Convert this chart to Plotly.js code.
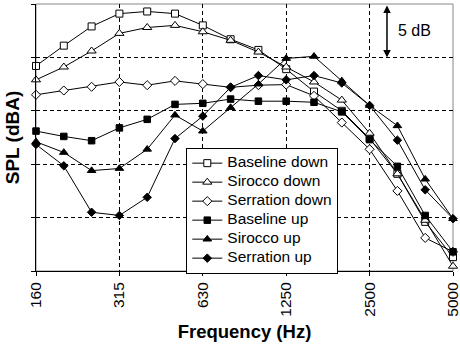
<!DOCTYPE html>
<html>
<head>
<meta charset="utf-8">
<script src="https://cdn.plot.ly/plotly-3.0.1.min.js"></script>
<style>
html, body { margin: 0; padding: 0; background: #fff; }
#chart { width: 460px; height: 349px; }
</style>
</head>
<body>
<div id="chart"></div>
<script>
// One-third octave band centre frequencies (Hz)
const frequencies = ['160','200','250','315','400','500','630','800','1000','1250','1600','2000','2500','3150','4000','5000'];
const tickLabels = ['160','315','630','1250','2500','5000'];

// Relative SPL levels (dBA); axis spans 25 dB
const baselineDown  = [19.2, 21.1, 22.9, 24.1, 24.3, 24.1, 23.0, 21.7, 20.7, 18.9, 16.8, 15.0, 12.4, 9.1, 4.6, 1.3];
const siroccoDown   = [17.9, 19.1, 20.6, 22.25, 22.8, 23.0, 22.4, 21.6, 20.5, 19.1, 17.7, 16.0, 12.9, 9.1, 4.75, 0.45];
const serrationDown = [16.5, 16.9, 17.25, 17.7, 17.4, 17.8, 17.5, 17.2, 17.4, 17.45, 16.4, 13.9, 11.4, 7.5, 3.1, 1.8];
const baselineUp    = [13.1, 12.6, 12.2, 13.4, 14.2, 15.6, 15.7, 16.1, 15.9, 15.9, 15.8, 14.9, 12.3, 9.8, 5.2, 1.8];
const siroccoUp     = [12.1, 11.1, 9.4, 9.6, 11.4, 14.6, 13.1, 15.3, 17.5, 19.9, 20.1, 17.8, 15.5, 13.6, 8.6, 4.9];
const serrationUp   = [11.85, 9.85, 5.5, 5.2, 6.9, 12.4, 14.5, 17.2, 18.3, 17.9, 18.3, 17.6, 15.5, 12.25, 7.6, 4.9];

const seriesNames = ['Baseline down','Sirocco down','Serration down','Baseline up','Sirocco up','Serration up'];
const seriesValues = [baselineDown, siroccoDown, serrationDown, baselineUp, siroccoUp, serrationUp];

const scaleBarFrom = 20, scaleBarTo = 25, scaleBarLabel = '5 dB';

const FONT = 'Liberation Sans, Arial, sans-serif';
const styles = [
  {symbol: 'square', size: 7, color: '#fff'},
  {symbol: 'triangle-up', size: 8, color: '#fff'},
  {symbol: 'diamond', size: 7, color: '#fff'},
  {symbol: 'square', size: 6.5, color: '#000'},
  {symbol: 'triangle-up', size: 7.5, color: '#000'},
  {symbol: 'diamond', size: 6.5, color: '#000'}
];

const traces = seriesNames.map((name, i) => ({
  type: 'scatter',
  mode: 'lines+markers',
  x: frequencies,
  y: seriesValues[i],
  name: '<span style="font-size:15.5px">' + name + '</span>',
  cliponaxis: false,
  line: {color: '#000', width: 1},
  marker: {symbol: styles[i].symbol, size: styles[i].size, color: styles[i].color,
           line: {color: '#000', width: 1}}
}));

const layout = {
  width: 460, height: 349,
  margin: {l: 36, r: 7, t: 4, b: 78},
  paper_bgcolor: '#fff', plot_bgcolor: '#fff',
  font: {family: FONT, color: '#000', size: 15.5},
  showlegend: true,
  legend: {
    x: 0.3604, y: 0.462, xanchor: 'left', yanchor: 'top',
    bgcolor: '#fff', bordercolor: '#000', borderwidth: 1,
    font: {family: FONT, size: 11, color: '#000'},
    tracegroupgap: 0
  },
  xaxis: {
    type: 'category', range: [0, 15],
    tickmode: 'array', tickvals: tickLabels, ticktext: tickLabels,
    tickangle: -90, tickfont: {family: FONT, size: 15.5, color: '#000'},
    ticks: 'outside', ticklen: 4, tickcolor: '#000',
    showline: true, linecolor: '#000', linewidth: 1,
    showgrid: true, gridcolor: '#000', gridwidth: 1, griddash: '4px,3px',
    zeroline: false,
    title: {text: 'Frequency (Hz)', font: {family: FONT, size: 18.5, weight: 'bold', color: '#000'}, standoff: 9}
  },
  yaxis: {
    range: [0, 25],
    tickmode: 'array', tickvals: [0, 5, 10, 15, 20, 25],
    showticklabels: false,
    ticks: 'outside', ticklen: 4, tickcolor: '#000',
    showline: true, linecolor: '#000', linewidth: 1,
    showgrid: true, gridcolor: '#000', gridwidth: 1, griddash: '4px,3px',
    zeroline: false,
    title: {text: 'SPL (dBA)', font: {family: FONT, size: 19, weight: 'bold', color: '#000'}, standoff: 6}
  },
  shapes: [
    {type: 'rect', xref: 'paper', yref: 'paper', x0: 0, x1: 1, y0: 0, y1: 1,
     line: {color: '#888', width: 1}, layer: 'between'}
  ],
  annotations: [
    {xref: 'paper', yref: 'y', x: 0.8417, y: scaleBarFrom,
     axref: 'pixel', ayref: 'y', ax: 0, ay: scaleBarTo,
     text: '', showarrow: true, arrowside: 'end+start', arrowhead: 2, arrowsize: 1,
     arrowwidth: 1.5, arrowcolor: '#000', standoff: 0, startstandoff: 0},
    {xref: 'paper', yref: 'y', x: 0.864, y: (scaleBarFrom + scaleBarTo) / 2,
     xanchor: 'left', yanchor: 'middle', text: scaleBarLabel, showarrow: false,
     font: {family: FONT, size: 16, color: '#000'}}
  ]
};

Plotly.newPlot('chart', traces, layout, {displayModeBar: false, staticPlot: true});
</script>
</body>
</html>
